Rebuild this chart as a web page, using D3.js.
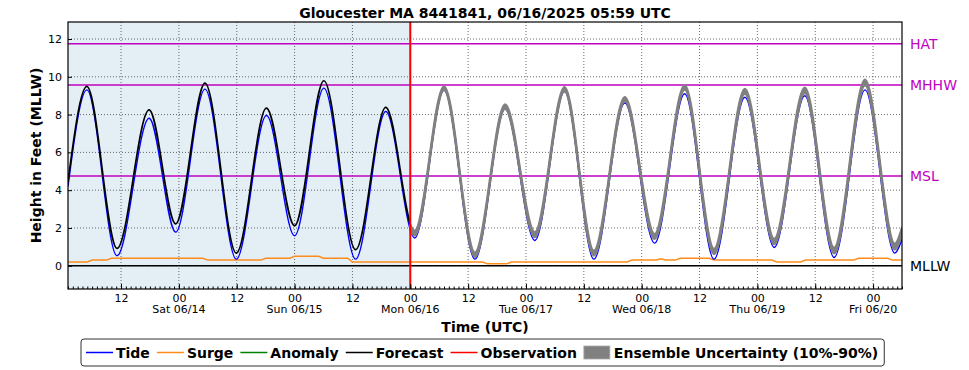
<!DOCTYPE html>
<html>
<head>
<meta charset="utf-8">
<script src="https://cdn.jsdelivr.net/npm/d3@7"></script>
<style>
  body { margin: 0; background: #fff; }
  svg { font-family: "DejaVu Sans", sans-serif; }
</style>
</head>
<body>
<svg id="chart" width="969" height="370"></svg>
<script>
// tide / forecast turning points (UTC)
var turnTimes = ["2025-06-13 01:00","2025-06-13 04:55","2025-06-13 11:10","2025-06-13 17:50","2025-06-13 23:20",
  "2025-06-14 05:25","2025-06-14 11:55","2025-06-14 18:10","2025-06-15 00:00","2025-06-15 06:05",
  "2025-06-15 12:40","2025-06-15 18:55","2025-06-16 00:55","2025-06-16 07:00","2025-06-16 13:25",
  "2025-06-16 19:40","2025-06-17 01:50","2025-06-17 08:00","2025-06-17 14:05","2025-06-17 20:30",
  "2025-06-18 02:40","2025-06-18 08:55","2025-06-18 15:00","2025-06-18 21:25","2025-06-19 03:30",
  "2025-06-19 09:50","2025-06-19 15:55","2025-06-19 22:20","2025-06-20 04:30","2025-06-20 06:00"];
var tide = [4.2, 9.31, 0.53, 7.81, 1.78, 9.35, 0.35, 7.95, 1.59, 9.40, 0.35, 8.16, 1.47, 9.28, 0.35,
  8.29, 1.34, 9.22, 0.35, 8.61, 1.2, 9.1, 0.35, 8.92, 0.97, 9.0, 0.44, 9.31, 0.67, 1.4];
var forecast = [4.45, 9.49, 0.92, 8.25, 2.22, 9.67, 0.67, 8.34, 2.12, 9.79, 0.85, 8.38, 1.73, 9.40, 0.58,
  8.43, 1.64, 9.35, 0.67, 8.82, 1.55, 9.43, 0.76, 9.22, 1.29, 9.28, 0.81, 9.70, 1.02, 1.85];

// ensemble 10% / 90% after forecast start
var ensTimes = ["2025-06-16 00:00","2025-06-16 00:55","2025-06-16 07:00","2025-06-16 13:25","2025-06-16 19:40",
  "2025-06-17 01:50","2025-06-17 08:00","2025-06-17 14:05","2025-06-17 20:30","2025-06-18 02:40",
  "2025-06-18 08:55","2025-06-18 15:00","2025-06-18 21:25","2025-06-19 03:30","2025-06-19 09:50",
  "2025-06-19 15:55","2025-06-19 22:20","2025-06-20 04:30","2025-06-20 06:00"];
var ens10 = [1.88, 1.60, 9.30, 0.47, 8.32, 1.52, 9.24, 0.54, 8.70, 1.42, 9.32, 0.62, 9.10, 1.14, 9.14, 0.65, 9.55, 0.86, 1.68];
var ens90 = [2.16, 1.86, 9.50, 0.70, 8.54, 1.78, 9.46, 0.80, 8.93, 1.68, 9.56, 0.90, 9.36, 1.43, 9.43, 0.96, 9.85, 1.17, 2.02];

// storm surge (steps)
var surgeTimes = ["2025-06-13 01:00","2025-06-13 05:00","2025-06-13 06:00","2025-06-13 09:00","2025-06-13 10:00",
  "2025-06-14 05:00","2025-06-14 06:00","2025-06-14 17:00","2025-06-14 18:00","2025-06-14 23:00","2025-06-15 00:00",
  "2025-06-15 05:00","2025-06-15 06:00","2025-06-15 11:00","2025-06-15 12:00","2025-06-16 15:00","2025-06-16 16:00",
  "2025-06-16 20:00","2025-06-16 21:00","2025-06-17 21:00","2025-06-17 22:00","2025-06-18 03:00","2025-06-18 04:00",
  "2025-06-18 05:00","2025-06-18 07:00","2025-06-18 08:00","2025-06-18 14:00","2025-06-18 15:00","2025-06-19 03:00",
  "2025-06-19 04:00","2025-06-19 09:00","2025-06-19 10:00","2025-06-19 20:00","2025-06-19 21:00","2025-06-20 03:00",
  "2025-06-20 04:00","2025-06-20 06:00"];
var surge = [0.2, 0.2, 0.3, 0.3, 0.4, 0.4, 0.3, 0.3, 0.4, 0.4, 0.5, 0.5, 0.4, 0.4, 0.2, 0.2, 0.1,
  0.1, 0.2, 0.2, 0.3, 0.3, 0.37, 0.3, 0.3, 0.4, 0.4, 0.3, 0.3, 0.2, 0.2, 0.3, 0.3, 0.4, 0.4, 0.3, 0.3];

var datumNames = ["HAT", "MHHW", "MSL", "MLLW"];
var datumValues = [11.75, 9.56, 4.75, 0];
var yTicks = [0, 2, 4, 6, 8, 10, 12];
var startTime = "2025-06-13 01:00", endTime = "2025-06-20 06:00", nowTime = "2025-06-16 00:00";
var titleText = "Gloucester MA 8441841, 06/16/2025 05:59 UTC";

var parse = d3.utcParse("%Y-%m-%d %H:%M");
var svg = d3.select("#chart");
var pLeft = 68, pTop = 22, pRight = 902, pBottom = 289;

var x = d3.scaleUtc().domain([parse(startTime), parse(endTime)]).range([pLeft, pRight]);
var y = d3.scaleLinear().domain([-1.23, 12.9]).range([pBottom, pTop]);

function series(times, vals) {
    return times.map(function(t, i) { return {t: parse(t), v: vals[i]}; });
}

svg.append("defs").append("clipPath").attr("id", "clip")
    .append("rect").attr("x", pLeft).attr("y", pTop).attr("width", pRight - pLeft).attr("height", pBottom - pTop);

// hindcast shading
svg.append("rect").attr("x", pLeft).attr("y", pTop)
    .attr("width", x(parse(nowTime)) - pLeft).attr("height", pBottom - pTop)
    .attr("fill", "#e3eef5");

// grid
var majorTicks = d3.utcHour.every(12).range(parse(startTime), parse(endTime));
svg.append("g").selectAll("line").data(majorTicks).enter().append("line")
    .attr("x1", function(d) { return x(d); }).attr("x2", function(d) { return x(d); })
    .attr("y1", pTop).attr("y2", pBottom)
    .attr("stroke", "#444").attr("stroke-width", 0.8).attr("stroke-dasharray", "1,2");
svg.append("g").selectAll("line").data(yTicks).enter().append("line")
    .attr("x1", pLeft).attr("x2", pRight)
    .attr("y1", function(d) { return y(d); }).attr("y2", function(d) { return y(d); })
    .attr("stroke", "#444").attr("stroke-width", 0.8).attr("stroke-dasharray", "1,2");

// datum lines
svg.append("g").selectAll("line").data(datumValues).enter().append("line")
    .attr("x1", pLeft).attr("x2", pRight)
    .attr("y1", function(d) { return y(d); }).attr("y2", function(d) { return y(d); })
    .attr("stroke", function(d, i) { return datumNames[i] == "MLLW" ? "#000" : "#c000c0"; })
    .attr("stroke-width", 1.5);
svg.append("g").selectAll("text").data(datumValues).enter().append("text")
    .attr("x", 910).attr("y", function(d) { return y(d) + 5; })
    .attr("font-size", 14)
    .attr("fill", function(d, i) { return datumNames[i] == "MLLW" ? "#000" : "#c000c0"; })
    .text(function(d, i) { return datumNames[i]; });

var plot = svg.append("g").attr("clip-path", "url(#clip)");
var line = d3.line().x(function(d) { return x(d.t); }).y(function(d) { return y(d.v); })
    .curve(d3.curveMonotoneX);

plot.append("path").datum(series(surgeTimes, surge))
    .attr("d", d3.line().x(function(d) { return x(d.t); }).y(function(d) { return y(d.v); }))
    .attr("fill", "none").attr("stroke", "#ff8c1a").attr("stroke-width", 1.5);
plot.append("path").datum(series(turnTimes, tide)).attr("d", line)
    .attr("fill", "none").attr("stroke", "#0000ff").attr("stroke-width", 1.4);
plot.append("path").datum(series(turnTimes, forecast)).attr("d", line)
    .attr("fill", "none").attr("stroke", "#000").attr("stroke-width", 1.7);

var ens = ensTimes.map(function(t, i) { return {t: parse(t), lo: ens10[i], hi: ens90[i]}; });
plot.append("path").datum(ens)
    .attr("d", d3.area().x(function(d) { return x(d.t); })
        .y0(function(d) { return y(d.lo); }).y1(function(d) { return y(d.hi); })
        .curve(d3.curveMonotoneX))
    .attr("fill", "#808080").attr("stroke", "#808080").attr("stroke-width", 2.2)
    .attr("stroke-linejoin", "round");

// forecast start
svg.append("line").attr("x1", x(parse(nowTime))).attr("x2", x(parse(nowTime)))
    .attr("y1", pTop).attr("y2", pBottom).attr("stroke", "#ff0000").attr("stroke-width", 2);

// axes
var xMinor = svg.append("g").attr("transform", "translate(0," + pBottom + ")")
    .call(d3.axisBottom(x).ticks(d3.utcHour.every(1)).tickSize(-2.5).tickFormat(""));
var xMajor = svg.append("g").attr("transform", "translate(0," + pBottom + ")")
    .call(d3.axisBottom(x).tickValues(majorTicks).tickSize(-5).tickPadding(5)
        .tickFormat(d3.utcFormat("%H")));
var yAxis = svg.append("g").attr("transform", "translate(" + pLeft + ",0)")
    .call(d3.axisLeft(y).tickValues(yTicks).tickSize(-4).tickPadding(6));
[xMinor, xMajor, yAxis].forEach(function(g) {
    g.select(".domain").remove();
    g.selectAll("text").attr("font-size", 11).attr("font-family", "DejaVu Sans").attr("fill", "#000");
});

svg.append("g").selectAll("text")
    .data(majorTicks.filter(function(d) { return d.getUTCHours() == 0; }))
    .enter().append("text")
    .attr("x", function(d) { return x(d); }).attr("y", 313)
    .attr("text-anchor", "middle").attr("font-size", 11)
    .text(d3.utcFormat("%a %m/%d"));

svg.append("rect").attr("x", pLeft).attr("y", pTop).attr("width", pRight - pLeft).attr("height", pBottom - pTop)
    .attr("fill", "none").attr("stroke", "#000").attr("stroke-width", 1.2);

// titles
svg.append("text").attr("x", (pLeft + pRight) / 2).attr("y", 18).attr("text-anchor", "middle")
    .attr("font-size", 14).attr("font-weight", "bold").text(titleText);
svg.append("text").attr("x", (pLeft + pRight) / 2).attr("y", 332).attr("text-anchor", "middle")
    .attr("font-size", 14).attr("font-weight", "bold").text("Time (UTC)");
svg.append("text").attr("transform", "translate(41," + ((pTop + pBottom) / 2) + ") rotate(-90)")
    .attr("text-anchor", "middle").attr("font-size", 14).attr("font-weight", "bold")
    .text("Height in Feet (MLLW)");

// legend
var legendNames = ["Tide", "Surge", "Anomaly", "Forecast", "Observation", "Ensemble Uncertainty (10%-90%)"];
var legendColors = ["#0000ff", "#ff8c1a", "#008000", "#000", "#ff0000", "#808080"];
var legend = svg.append("g");
var box = legend.append("rect").attr("x", 81).attr("y", 339).attr("height", 27)
    .attr("rx", 3).attr("fill", "#fff").attr("stroke", "#333").attr("stroke-width", 1);
var lx = 86;
legendNames.forEach(function(name, i) {
    if (i == legendNames.length - 1) {
        legend.append("rect").attr("x", lx).attr("y", 346).attr("width", 26).attr("height", 13)
            .attr("fill", legendColors[i]).attr("stroke", "#aaa").attr("stroke-width", 0.8);
    } else {
        legend.append("line").attr("x1", lx).attr("x2", lx + 27).attr("y1", 352.5).attr("y2", 352.5)
            .attr("stroke", legendColors[i]).attr("stroke-width", 1.5);
    }
    var t = legend.append("text").attr("x", lx + 30).attr("y", 357.5)
        .attr("font-size", 14).attr("font-weight", "bold").text(name);
    lx = lx + 30 + t.node().getComputedTextLength() + 7;
});
box.attr("width", lx - 81 - 1);
</script>
</body>
</html>
